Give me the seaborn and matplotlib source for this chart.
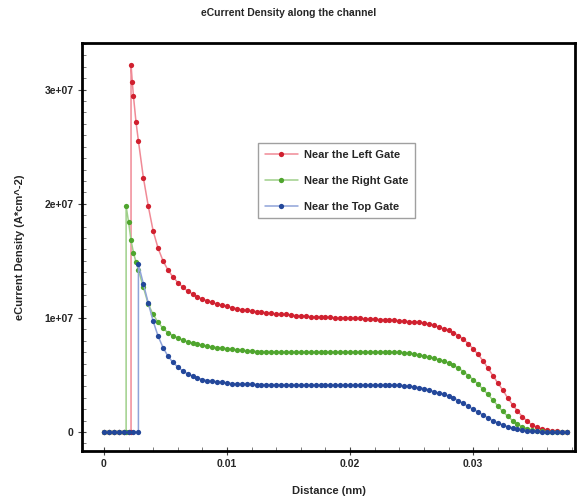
import numpy as np
import pandas as pd
import matplotlib
matplotlib.use("Agg")
import matplotlib.pyplot as plt
from matplotlib.lines import Line2D
from matplotlib.ticker import AutoMinorLocator, FuncFormatter, FixedLocator
import seaborn as sns

# ---- data (current density in units of 1e7 A*cm^-2, distance in nm) ----
mesh = [
    0.0028, 0.0032, 0.0036, 0.0040, 0.0044, 0.0048, 0.0052, 0.0056, 0.0060, 0.0064,
    0.0068, 0.0072, 0.0076, 0.0080, 0.0084, 0.0088, 0.0092, 0.0096, 0.0100, 0.0104,
    0.0108, 0.0112, 0.0116, 0.0120, 0.0124, 0.0128, 0.0132, 0.0136, 0.0140, 0.0144,
    0.0148, 0.0152, 0.0156, 0.0160, 0.0164, 0.0168, 0.0172, 0.0176, 0.0180, 0.0184,
    0.0188, 0.0192, 0.0196, 0.0200, 0.0204, 0.0208, 0.0212, 0.0216, 0.0220, 0.0224,
    0.0228, 0.0232, 0.0236, 0.0240, 0.0244, 0.0248, 0.0252, 0.0256, 0.0260, 0.0264,
    0.0268, 0.0272, 0.0276, 0.0280, 0.0284, 0.0288, 0.0292, 0.0296, 0.0300, 0.0304,
    0.0308, 0.0312, 0.0316, 0.0320, 0.0324, 0.0328, 0.0332, 0.0336, 0.0340, 0.0344,
    0.0348, 0.0352, 0.0356, 0.0360, 0.0364, 0.0368, 0.0372, 0.0376,
]

left_x0 = [0.0, 0.0004, 0.0008, 0.0012, 0.0016, 0.0020, 0.0022, 0.0022, 0.0023, 0.0024, 0.0026]
left_y0 = [0, 0, 0, 0, 0, 0, 0, 3.22, 3.07, 2.94, 2.72]
left_y = [
    2.55, 2.23, 1.98, 1.76, 1.61, 1.50, 1.42, 1.36, 1.31, 1.27,
    1.235, 1.21, 1.185, 1.165, 1.15, 1.135, 1.12, 1.11, 1.10, 1.09,
    1.08, 1.07, 1.065, 1.06, 1.055, 1.05, 1.045, 1.04, 1.035, 1.03,
    1.03, 1.025, 1.02, 1.02, 1.015, 1.01, 1.01, 1.01, 1.005, 1.005,
    1.0, 1.0, 1.0, 1.0, 0.995, 0.995, 0.99, 0.99, 0.99, 0.985,
    0.985, 0.98, 0.98, 0.975, 0.97, 0.968, 0.965, 0.96, 0.955, 0.945,
    0.935, 0.92, 0.905, 0.89, 0.87, 0.845, 0.815, 0.775, 0.73, 0.68,
    0.625, 0.56, 0.495, 0.43, 0.37, 0.30, 0.24, 0.185, 0.135, 0.095,
    0.06, 0.04, 0.025, 0.015, 0.009, 0.005, 0.003, 0.001,
]

right_x0 = [0.0, 0.0004, 0.0008, 0.0012, 0.0016, 0.0018, 0.0018, 0.0020, 0.0022, 0.0024, 0.0026]
right_y0 = [0, 0, 0, 0, 0, 0, 1.98, 1.84, 1.68, 1.57, 1.49]
right_y = [
    1.42, 1.27, 1.12, 1.03, 0.96, 0.91, 0.87, 0.845, 0.825, 0.805,
    0.79, 0.78, 0.77, 0.76, 0.75, 0.745, 0.74, 0.735, 0.73, 0.725,
    0.72, 0.715, 0.71, 0.71, 0.705, 0.705, 0.705, 0.705, 0.70, 0.70,
    0.70, 0.70, 0.70, 0.70, 0.70, 0.70, 0.70, 0.70, 0.70, 0.70,
    0.70, 0.70, 0.70, 0.70, 0.70, 0.70, 0.70, 0.70, 0.70, 0.70,
    0.70, 0.70, 0.70, 0.70, 0.695, 0.69, 0.685, 0.675, 0.665, 0.655,
    0.645, 0.635, 0.62, 0.605, 0.585, 0.56, 0.53, 0.495, 0.46, 0.42,
    0.375, 0.33, 0.28, 0.23, 0.18, 0.14, 0.10, 0.07, 0.045, 0.028,
    0.017, 0.01, 0.006, 0.003, 0.002, 0.001, 0.0, 0.0,
]

top_x0 = [0.0, 0.0004, 0.0008, 0.0012, 0.0016, 0.0020, 0.0024, 0.0028]
top_y0 = [0, 0, 0, 0, 0, 0, 0, 0]
top_y = [
    1.47, 1.30, 1.13, 0.97, 0.84, 0.74, 0.665, 0.61, 0.57, 0.535,
    0.51, 0.49, 0.475, 0.46, 0.45, 0.445, 0.44, 0.435, 0.43, 0.425,
    0.42, 0.42, 0.42, 0.42, 0.415, 0.415, 0.415, 0.415, 0.415, 0.415,
    0.41, 0.41, 0.41, 0.41, 0.41, 0.41, 0.41, 0.41, 0.41, 0.41,
    0.41, 0.41, 0.41, 0.41, 0.41, 0.41, 0.41, 0.41, 0.41, 0.41,
    0.41, 0.41, 0.41, 0.41, 0.405, 0.40, 0.395, 0.39, 0.38, 0.37,
    0.355, 0.34, 0.33, 0.315, 0.30, 0.275, 0.25, 0.225, 0.20, 0.175,
    0.15, 0.125, 0.10, 0.08, 0.062, 0.047, 0.035, 0.025, 0.018, 0.012,
    0.008, 0.005, 0.003, 0.002, 0.001, 0.0, 0.0, 0.0,
]

series_names = ["Near the Left Gate", "Near the Right Gate", "Near the Top Gate"]
unit = 1e7

frames = []
for name, x0, y0, y in [
    (series_names[0], left_x0, left_y0, left_y),
    (series_names[1], right_x0, right_y0, right_y),
    (series_names[2], top_x0, top_y0, top_y),
]:
    xs = list(x0) + list(mesh)
    ys = np.array(list(y0) + list(y)) * unit
    frames.append(pd.DataFrame({"Distance": xs, "Density": ys, "Probe": name}))
df = pd.concat(frames, ignore_index=True)

# ---- styling ----
sns.set_style("white")
plt.rcParams["font.family"] = ["Liberation Sans Narrow", "Liberation Sans", "DejaVu Sans"]
plt.rcParams["font.weight"] = "bold"

line_colors = ["#f08a96", "#9fd08a", "#8fa3d8"]
marker_colors = ["#d0202f", "#4fa52e", "#23479a"]
msize = 3.8

fig = plt.figure(figsize=(5.77, 5.04), dpi=100)
ax = fig.add_axes([0.142, 0.105, 0.855, 0.810])

sns.lineplot(
    data=df, x="Distance", y="Density", hue="Probe", units="Probe",
    estimator=None, sort=False, palette=line_colors, hue_order=series_names,
    linewidth=1.1, marker="o", markersize=msize, markeredgewidth=0,
    legend=False, ax=ax,
)
for ln, mc in zip(ax.lines, marker_colors):
    ln.set_markerfacecolor(mc)
    ln.set_markeredgecolor(mc)

ax.set_xlim(-0.00179, 0.0383)
ax.set_ylim(-0.167e7, 3.41e7)

ax.xaxis.set_major_locator(FixedLocator([0, 0.01, 0.02, 0.03]))
ax.xaxis.set_major_formatter(FuncFormatter(lambda v, p: "%g" % round(v, 4)))
ax.yaxis.set_major_locator(FixedLocator([0, 1e7, 2e7, 3e7]))
ax.yaxis.set_major_formatter(FuncFormatter(lambda v, p: "0" if v == 0 else "%.0e" % v))
ax.xaxis.set_minor_locator(AutoMinorLocator(5))
ax.yaxis.set_minor_locator(AutoMinorLocator(10))
ax.tick_params(which="major", direction="inout", length=6, width=0.8, color="#444444",
               labelsize=7.5, bottom=True, left=True, pad=3)
ax.tick_params(which="minor", direction="in", length=3, width=0.6, color="#666666",
               bottom=True, left=True)

for s in ax.spines.values():
    s.set_linewidth(2.0)
    s.set_color("black")

ax.set_xlabel("Distance (nm)", fontsize=8, fontweight="bold", labelpad=12)
ax.set_ylabel("eCurrent Density (A*cm^-2)", fontsize=8, fontweight="bold", labelpad=14)
fig.suptitle("eCurrent Density along the channel", fontsize=7.5, fontweight="bold",
             x=0.5, y=0.985)

handles = [
    Line2D([0], [0], color=lc, lw=1.1, marker="o", markersize=msize,
           markerfacecolor=mc, markeredgewidth=0)
    for lc, mc in zip(line_colors, marker_colors)
]
leg = ax.legend(handles, series_names, loc="upper left", bbox_to_anchor=(0.357, 0.755),
                borderaxespad=0, frameon=True, fancybox=False, edgecolor="#888888",
                fontsize=8, handlelength=3.0, borderpad=0.6, labelspacing=1.45,
                handletextpad=0.5)
leg.get_frame().set_linewidth(1.0)
for t in leg.get_texts():
    t.set_fontweight("bold")

fig.savefig("out.png", dpi=100)
